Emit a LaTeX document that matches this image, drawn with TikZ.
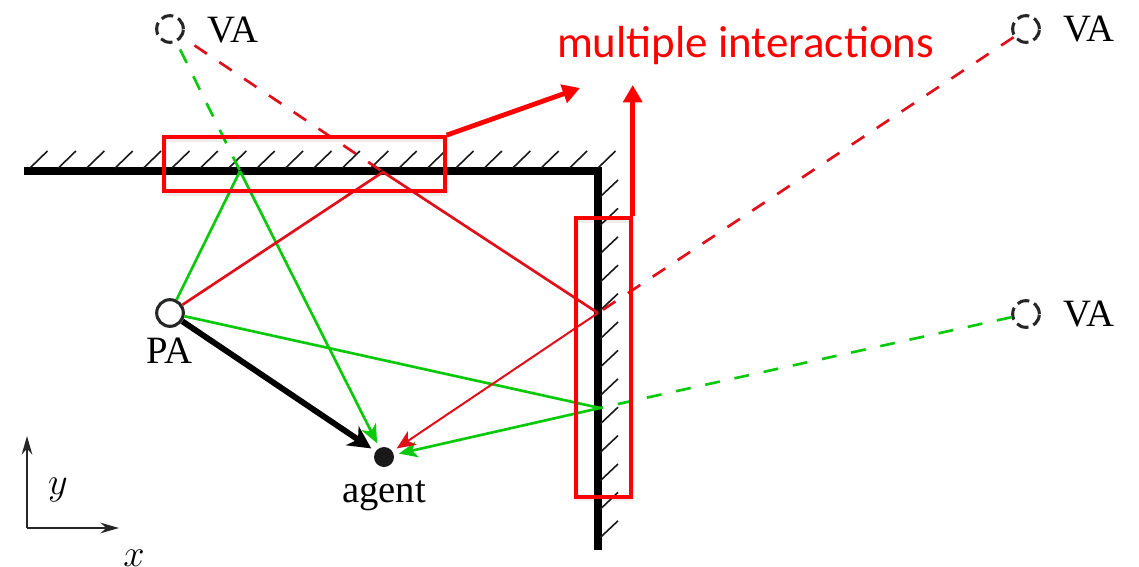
\documentclass[tikz,border=0pt]{standalone}
\usepackage{fontspec}
\setmainfont{Liberation Serif}
\newfontfamily\labelfont{Carlito}
\usetikzlibrary{arrows.meta}
\definecolor{raygreen}{RGB}{10,200,10}
\definecolor{rayred}{RGB}{225,15,25}
\tikzset{
    wall/.style={line width=5.6pt, black},
    hatch/.style={line width=1.2pt, black!90},
    source/.style={circle, draw=black!85, fill=white, line width=2.3pt, minimum size=20pt, inner sep=0pt},
    imagesource/.style={source, dash pattern=on 9.2pt off 4pt, fill=none},
    txt/.style={inner sep=0pt, font=\fontsize{29}{32}\selectfont},
    mathtxt/.style={txt, scale=1.15},
    ray/.style={line width=2pt},
    dashray/.style={line width=2pt, dash pattern=on 11.2pt off 11.2pt},
    raytip/.style={-{Stealth[length=14pt, width=12pt, inset=4pt]}},
    markbox/.style={draw=red, line width=2.8pt, inner sep=0pt,
        preaction={draw=black, draw opacity=0.07, line width=2.4pt, transform canvas={shift={(1pt,-2.2pt)}}}},
    callout/.style={red, line width=3.6pt, -{Triangle[length=13pt, width=14pt]}},
}
\begin{document}
\begin{tikzpicture}[x=0.75pt, y=-0.75pt]
    \useasboundingbox (0,0) rectangle (1139,567);

    % Walls
    \draw[wall] (24,171) -- (598,171) -- (598,550);
    \foreach \i in {0,...,20}
        \draw[hatch] ({30+28.4*\i},168) -- ++(17.5,-17);
    \foreach \i in {0,...,12}
        \draw[hatch] (600,{197+28.4*\i}) -- ++(18,-17);

    % Sources
    \node[source] (pa) at (170,313) {};
    \node[imagesource] (vatop) at (170,29) {};
    \node[imagesource] (vacorner) at (1026,29) {};
    \node[imagesource] (varight) at (1026,314) {};
    \node[circle, fill=black!90, minimum size=15pt, inner sep=0pt, outer sep=4pt] (agent) at (384,457) {};

    % Reflection points
    \coordinate (hitgreentop) at (240,171);
    \coordinate (hitredtop) at (383,172);
    \coordinate (hitredright) at (598,313);
    \coordinate (hitgreenright) at (600,408);

    % Direct path
    \draw[line width=4.4pt, -{Stealth[length=17pt, width=17pt, inset=5pt]}] (pa) -- (agent);

    % Reflected paths
    \draw[ray, raygreen] (pa) -- (hitgreentop);
    \draw[ray, raygreen, raytip] (hitgreentop) -- (agent);
    \draw[ray, raygreen] (pa) -- (hitgreenright);
    \draw[ray, raygreen, raytip] (hitgreenright) -- (agent);
    \draw[ray, rayred] (pa) -- (hitredtop) -- (hitredright);
    \draw[line width=1.5pt, rayred, raytip] (hitredright) -- (agent);

    % Image source lines
    \draw[dashray, raygreen, shorten <=6pt] (vatop) -- (hitgreentop);
    \draw[dashray, rayred, shorten <=11pt] (vatop) -- (hitredtop);
    \draw[dashray, rayred] (vacorner) -- (hitredright);
    \draw[dashray, raygreen] (varight) -- (hitgreenright);

    % Labels
    \node[txt] (vatoplabel) at (233,30) {VA};
    \node[txt] (vacornerlabel) at (1089,29) {VA};
    \node[txt] (varightlabel) at (1089,314) {VA};
    \node[txt] (palabel) at (169,351) {PA};
    \node[txt] (agentlabel) at (384,496) {agent};

    % Axes
    \coordinate (origin) at (27,528);
    \coordinate (yend) at (27,436);
    \coordinate (xend) at (119,528);
    \draw[line width=1.3pt, black!85, -{Stealth[length=14pt, width=8pt]}] (origin) -- (yend);
    \draw[line width=1.3pt, black!85, -{Stealth[length=14pt, width=8pt]}] (origin) -- (xend);
    \node[mathtxt] (ylabel) at (58,490) {$y$};
    \node[mathtxt] (xlabel) at (134,558) {$x$};

    % Marked regions
    \node[markbox, minimum width=210.5pt, minimum height=40.5pt] (marktop) at (304.5,164) {};
    \node[markbox, minimum width=41pt, minimum height=209pt] (markright) at (603.5,357.5) {};
    \coordinate (marktopend) at (580,88);
    \coordinate (markrightend) at (630,85);
    \draw[callout] (marktop.north east) -- (marktopend);
    \draw[callout] (markright.north east) -- (markright.north east |- markrightend);
    \node[txt, red, font=\labelfont\fontsize{33.7}{36}\selectfont] (title) at (745.5,46) {multiple interactions};
\end{tikzpicture}
\end{document}
